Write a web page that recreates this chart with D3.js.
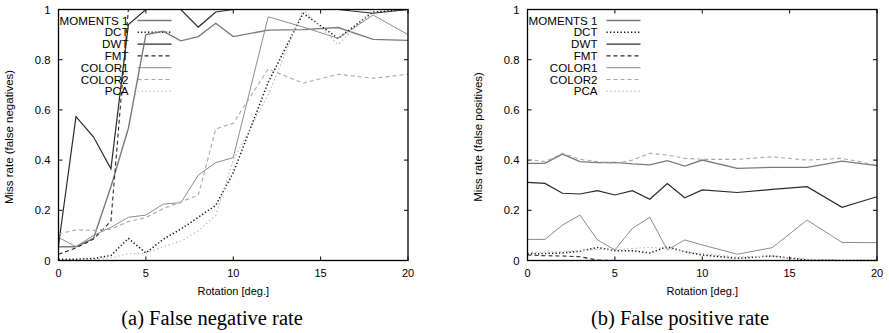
<!DOCTYPE html>
<html>
<head>
<meta charset="utf-8">
<script src="https://cdn.jsdelivr.net/npm/d3@7"></script>
<style>
  body { margin: 0; background: #fff; }
  svg { display: block; }
</style>
</head>
<body>
<div id="chart"></div>
<script>
// rotation angles (deg.)
const rotation = [0, 1, 2, 3, 4, 5, 6, 7, 8, 9, 10, 12, 14, 16, 18, 20];

// (a) false negative rate
const moments1FN = [0.055, 0.055, 0.088, 0.294, 0.527, 0.90, 0.913, 0.875, 0.892, 0.945, 0.892, 0.918, 0.92, 0.928, 0.881, 0.877];
const dctFN      = [0.005, 0.005, 0.008, 0.02, 0.088, 0.03, 0.085, 0.125, 0.172, 0.22, 0.35, 0.71, 0.985, 0.885, 0.99, 1.0];
const dwtFN      = [0.06, 0.573, 0.493, 0.365, 0.94, 1, 1, 1, 0.93, 0.99, 1, 1, 1, 1, 0.985, 1];
const fmtFN      = [0.025, 0.05, 0.085, 0.157, 1, 1, 1, 1, 1, 1, 1, 1, 1, 1, 1, 1];
const color1FN   = [0.092, 0.055, 0.10, 0.132, 0.172, 0.181, 0.225, 0.23, 0.34, 0.39, 0.41, 0.971, 0.93, 0.885, 0.978, 0.90];
const color2FN   = [0.106, 0.122, 0.12, 0.125, 0.155, 0.171, 0.207, 0.234, 0.26, 0.524, 0.547, 0.763, 0.706, 0.742, 0.726, 0.742];
const pcaFN      = [0, 0, 0.004, 0.01, 0.027, 0.028, 0.055, 0.077, 0.118, 0.18, 0.40, 0.66, 1.0, 0.86, 1.0, 1.0];

// (b) false positive rate
const moments1FP = [0.387, 0.387, 0.424, 0.394, 0.39, 0.391, 0.385, 0.381, 0.398, 0.376, 0.40, 0.367, 0.371, 0.371, 0.396, 0.378];
const dctFP      = [0.026, 0.028, 0.03, 0.037, 0.052, 0.039, 0.039, 0.03, 0.055, 0.035, 0.022, 0.009, 0.018, 0.002, 0, 0];
const dwtFP      = [0.311, 0.307, 0.268, 0.265, 0.278, 0.261, 0.278, 0.244, 0.307, 0.25, 0.281, 0.271, 0.283, 0.294, 0.212, 0.254];
const fmtFP      = [0.022, 0.019, 0.018, 0.015, 0.002, 0, 0, 0, 0, 0, 0, 0, 0, 0, 0, 0];
const color1FP   = [0.084, 0.084, 0.141, 0.181, 0.082, 0.042, 0.128, 0.172, 0.042, 0.082, 0.062, 0.025, 0.051, 0.161, 0.072, 0.071];
const color2FP   = [0.403, 0.394, 0.427, 0.403, 0.394, 0.387, 0.40, 0.427, 0.42, 0.407, 0.403, 0.403, 0.413, 0.40, 0.407, 0.38];
const pcaFP      = [0.031, 0.035, 0.035, 0.039, 0.044, 0.042, 0.048, 0.052, 0.048, 0.035, 0.028, 0.013, 0.018, 0.005, 0, 0];

const seriesNames = ["MOMENTS 1", "DCT", "DWT", "FMT", "COLOR1", "COLOR2", "PCA"];
const xTicks = [0, 5, 10, 15, 20];
const yTicks = [0, 0.2, 0.4, 0.6, 0.8, 1];

// gnuplot-ish monochrome line styles
const styles = {
  "MOMENTS 1": { color: "#7a7a7a", width: 1.4, dash: null },
  "DCT":       { color: "#111",    width: 1.5, dash: "1.3,2.2" },
  "DWT":       { color: "#2a2a2a", width: 1.2, dash: null },
  "FMT":       { color: "#2a2a2a", width: 1.1, dash: "4,3" },
  "COLOR1":    { color: "#8c8c8c", width: 1.0, dash: null },
  "COLOR2":    { color: "#a8a8a8", width: 1.1, dash: "4,3" },
  "PCA":       { color: "#b8b8b8", width: 1.1, dash: "1.5,2.5" }
};

const W = 889, H = 333;
const svg = d3.select("#chart").append("svg").attr("width", W).attr("height", H);

function drawPanel(opts) {
  const x = d3.scaleLinear().domain([0, 20]).range([opts.left, opts.right]);
  const y = d3.scaleLinear().domain([0, 1]).range([opts.bottom, opts.top]);
  const g = svg.append("g");
  const font = "'Liberation Sans', Arial, sans-serif";

  const clipId = "clip" + opts.id;
  svg.append("clipPath").attr("id", clipId)
    .append("rect").attr("x", opts.left).attr("y", opts.top - 1)
    .attr("width", opts.right - opts.left).attr("height", opts.bottom - opts.top + 2);

  // ticks (inside, mirrored)
  const tickLen = 4;
  xTicks.forEach(t => {
    g.append("line").attr("x1", x(t)).attr("x2", x(t)).attr("y1", opts.bottom).attr("y2", opts.bottom - tickLen)
      .attr("stroke", "#000").attr("stroke-width", 1);
    g.append("line").attr("x1", x(t)).attr("x2", x(t)).attr("y1", opts.top).attr("y2", opts.top + tickLen)
      .attr("stroke", "#000").attr("stroke-width", 1);
    g.append("text").attr("x", x(t)).attr("y", opts.bottom + 16)
      .attr("text-anchor", "middle").attr("font-family", font).attr("font-size", 11).text(t);
  });
  yTicks.forEach(t => {
    g.append("line").attr("x1", opts.left).attr("x2", opts.left + tickLen).attr("y1", y(t)).attr("y2", y(t))
      .attr("stroke", "#000").attr("stroke-width", 1);
    g.append("line").attr("x1", opts.right).attr("x2", opts.right - tickLen).attr("y1", y(t)).attr("y2", y(t))
      .attr("stroke", "#000").attr("stroke-width", 1);
    g.append("text").attr("x", opts.left - 8).attr("y", y(t) + 4)
      .attr("text-anchor", "end").attr("font-family", font).attr("font-size", 11.3).text(t);
  });

  // axis titles
  g.append("text").attr("x", (opts.left + opts.right) / 2).attr("y", opts.bottom + 34)
    .attr("text-anchor", "middle").attr("font-family", font).attr("font-size", 11).text("Rotation [deg.]");
  g.append("text")
    .attr("transform", "translate(" + (opts.left - 46) + "," + ((opts.top + opts.bottom) / 2 + 2) + ") rotate(-90)")
    .attr("text-anchor", "middle").attr("font-family", font).attr("font-size", 11.5).text(opts.yTitle);

  // legend (drawn first so the data lines run over it)
  seriesNames.forEach((name, i) => {
    const ly = opts.top + 11 + i * 11.8;
    const st = styles[name];
    g.append("text").attr("x", opts.left + 70).attr("y", ly + 4)
      .attr("text-anchor", "end").attr("font-family", font).attr("font-size", 11.6).text(name);
    g.append("line").attr("x1", opts.left + 79).attr("x2", opts.left + 113).attr("y1", ly).attr("y2", ly)
      .attr("stroke", st.color).attr("stroke-width", st.width)
      .attr("stroke-dasharray", st.dash);
  });

  // data lines
  const line = d3.line().x(d => x(d[0])).y(d => y(d[1]));
  const lines = g.append("g").attr("clip-path", "url(#" + clipId + ")");
  opts.series.forEach((vals, i) => {
    const st = styles[seriesNames[i]];
    lines.append("path")
      .datum(rotation.map((r, k) => [r, vals[k]]))
      .attr("d", line)
      .attr("fill", "none")
      .attr("stroke", st.color)
      .attr("stroke-width", st.width)
      .attr("stroke-dasharray", st.dash)
      .attr("stroke-linejoin", "miter");
  });

  // border
  g.append("rect").attr("x", opts.left).attr("y", opts.top)
    .attr("width", opts.right - opts.left).attr("height", opts.bottom - opts.top)
    .attr("fill", "none").attr("stroke", "#000").attr("stroke-width", 1.3);

  // caption
  g.append("text").attr("x", opts.captionX).attr("y", 325)
    .attr("text-anchor", "middle").attr("font-family", "'Liberation Serif', 'Times New Roman', serif")
    .attr("font-size", 20.5).text(opts.caption);
}

drawPanel({
  id: "a", left: 58.5, right: 408, top: 9.5, bottom: 260.5,
  yTitle: "Miss rate (false negatives)", caption: "(a) False negative rate", captionX: 212,
  series: [moments1FN, dctFN, dwtFN, fmtFN, color1FN, color2FN, pcaFN]
});
drawPanel({
  id: "b", left: 527.5, right: 877, top: 9.5, bottom: 260.5,
  yTitle: "Miss rate (false positives)", caption: "(b) False positive rate", captionX: 680,
  series: [moments1FP, dctFP, dwtFP, fmtFP, color1FP, color2FP, pcaFP]
});
</script>
</body>
</html>
